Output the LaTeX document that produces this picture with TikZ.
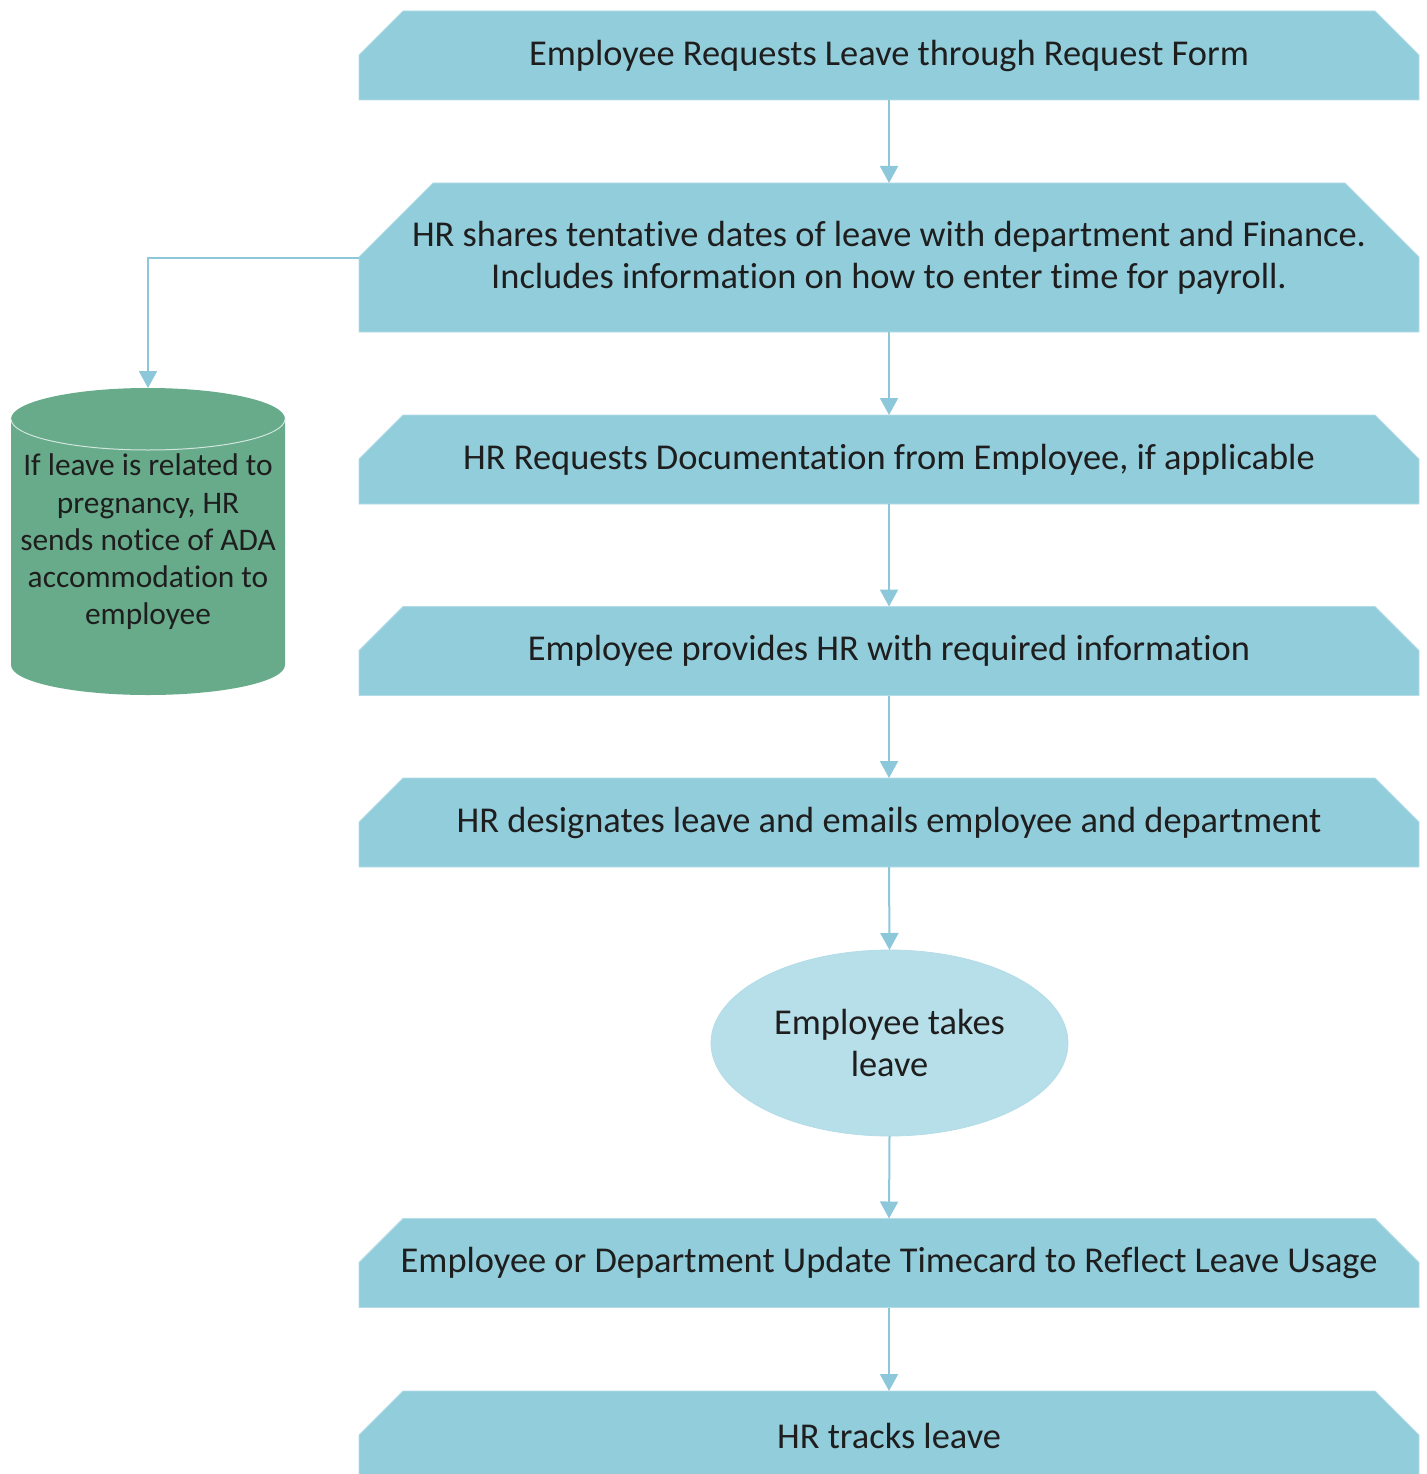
\documentclass[tikz,border=0pt]{standalone}
\usepackage{fontspec}
\setmainfont{Carlito}[Ligatures=NoCommon]
\usetikzlibrary{arrows.meta,shapes.geometric,backgrounds}
\definecolor{boxblue}{HTML}{92CDDC}
\definecolor{boxedge}{HTML}{B4DCE7}
\definecolor{ellblue}{HTML}{B7DFE9}
\definecolor{cylgreen}{HTML}{67AB8B}
\definecolor{arrowblue}{HTML}{8CC8DA}
\definecolor{txt}{HTML}{1E1E1E}
\tikzset{
  boxtext/.style={minimum width=1060pt, inner sep=0pt, outer sep=0pt, align=center, text=txt,
    font=\fontsize{36.4}{42}\selectfont},
  conn/.style={draw=arrowblue, line width=2pt, -{Triangle[width=18pt,length=17pt]}},
}
\newcommand{\snipbox}[2]{%
  \begin{pgfonlayer}{background}
  \filldraw[fill=boxblue, draw=boxedge, line width=0.8pt]
    ([xshift=#2]#1.north west) -- ([xshift=-#2]#1.north east) -- ([yshift=-#2]#1.north east)
    -- (#1.south east) -- (#1.south west) -- ([yshift=-#2]#1.north west) -- cycle;
  \end{pgfonlayer}}
\begin{document}
\begin{tikzpicture}[x=1pt,y=-1pt]
\useasboundingbox (0,0) rectangle (1426,1474);
\begin{scope}
\clip (0,0) rectangle (1426,1474);
% boxes
\node[boxtext, minimum height=89pt] (b1) at (889,55.5) {Employee Requests Leave through Request Form};
\snipbox{b1}{44pt}
\node[boxtext, minimum height=149pt] (b2) at (889,257.5) {HR shares tentative dates of leave with department and Finance.\\Includes information on how to enter time for payroll.};
\snipbox{b2}{74pt}
\node[boxtext, minimum height=89pt] (b3) at (889,459.5) {HR Requests Documentation from Employee, if applicable};
\snipbox{b3}{44pt}
\node[boxtext, minimum height=89pt] (b4) at (889,651) {Employee provides HR with required information};
\snipbox{b4}{44pt}
\node[boxtext, minimum height=89pt] (b5) at (889,822.5) {HR designates leave and emails employee and department};
\snipbox{b5}{44pt}
\node[ellipse, minimum width=357pt, minimum height=186pt, inner sep=0pt, outer sep=0pt,
  fill=ellblue, draw=boxedge, line width=0.8pt, align=center, text=txt,
  font=\fontsize{36.4}{42}\selectfont] (e6) at (889.5,1043) {Employee takes\\leave};
\node[boxtext, minimum height=89pt] (b7) at (889,1263) {Employee or Department Update Timecard to Reflect Leave Usage};
\snipbox{b7}{44pt}
\node[boxtext, minimum height=89pt] (b8) at (889,1435.5) {HR tracks leave};
\snipbox{b8}{44pt}
% cylinder
\fill[cylgreen] (11,419) arc[start angle=180, end angle=0, x radius=137pt, y radius=31pt]
  -- (285,665) arc[start angle=0, end angle=-180, x radius=137pt, y radius=30pt] -- cycle;
\draw[draw=white!70!cylgreen, line width=1pt] (11,419) arc[start angle=180, end angle=360, x radius=137pt, y radius=31pt];
\node[minimum width=274pt, minimum height=307pt, inner sep=0pt, outer sep=0pt] (cyl) at (148,541.5) {};
\node[align=center, text=txt, inner sep=0pt, font=\fontsize{31.4}{37.2}\selectfont] (cyltext) at (148,542) {If leave is related to\\pregnancy, HR\\sends notice of ADA\\accommodation to\\employee};
% connectors
\draw[conn] (b1.south) -- (b2.north);
\draw[conn] (b2.south) -- (b3.north);
\draw[conn] (b3.south) -- (b4.north);
\draw[conn] (b4.south) -- (b5.north);
\draw[conn] (b5.south) -- (e6.north);
\draw[conn] (e6.south) -- (b7.north);
\draw[conn] (b7.south) -- (b8.north);
\draw[conn] (b2.west) -| (cyl.north);
\end{scope}
\end{tikzpicture}
\end{document}
